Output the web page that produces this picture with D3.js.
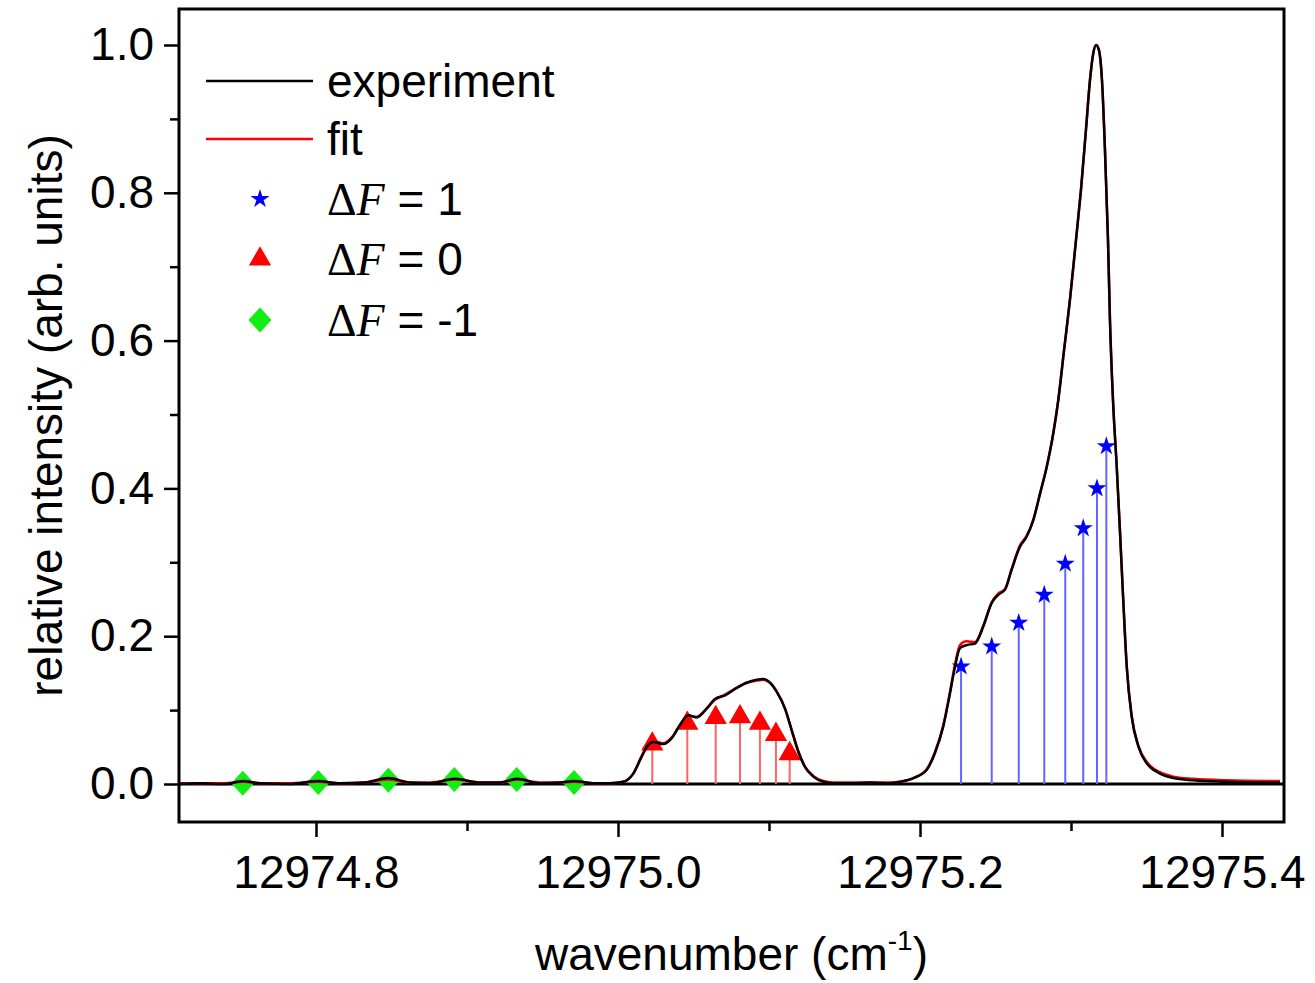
<!DOCTYPE html>
<html>
<head>
<meta charset="utf-8">
<script src="https://cdn.jsdelivr.net/npm/d3@7"></script>
<style>
  body { margin: 0; background: #fff; }
  svg { display: block; font-family: "Liberation Sans", Arial, sans-serif; }
</style>
</head>
<body>
<svg id="chart" width="1315" height="983"></svg>
<script>
// spectrum
const wavenumber = [
  12974.7093, 12974.7232, 12974.7397, 12974.7517, 12974.7629, 12974.7828, 12974.8013, 12974.8159,
  12974.8325, 12974.8477, 12974.8623, 12974.8755, 12974.8921, 12974.9086, 12974.9219, 12974.9331,
  12974.9483, 12974.9616, 12974.9709, 12974.9848, 12974.9947, 12975.0035, 12975.0101, 12975.0157,
  12975.0201, 12975.0234, 12975.0300, 12975.0356, 12975.0411, 12975.0466, 12975.0521, 12975.0587,
  12975.0642, 12975.0709, 12975.0786, 12975.0852, 12975.0919, 12975.0962, 12975.1007, 12975.1051,
  12975.1106, 12975.1150, 12975.1194, 12975.1238, 12975.1293, 12975.1360, 12975.1426, 12975.1536,
  12975.1669, 12975.1801, 12975.1868, 12975.1956, 12975.2044, 12975.2099, 12975.2154, 12975.2199,
  12975.2232, 12975.2265, 12975.2309, 12975.2364, 12975.2419, 12975.2475, 12975.2519, 12975.2563,
  12975.2607, 12975.2662, 12975.2707, 12975.2750, 12975.2795, 12975.2839, 12975.2883, 12975.2916,
  12975.2954, 12975.2993, 12975.3033, 12975.3066, 12975.3099, 12975.3126, 12975.3146, 12975.3166,
  12975.3185, 12975.3205, 12975.3225, 12975.3245, 12975.3258, 12975.3278, 12975.3303, 12975.3325,
  12975.3346, 12975.3369, 12975.3402, 12975.3446, 12975.3501, 12975.3523, 12975.3589, 12975.3677,
  12975.3810, 12975.4031, 12975.4384
];
const experiment = [
  0.000, 0.001, 0.000, 0.004, 0.001, 0.000, 0.004, 0.001,
  0.002, 0.008, 0.002, 0.001, 0.007, 0.002, 0.002, 0.007,
  0.001, 0.002, 0.004, 0.001, 0.001, 0.003, 0.014, 0.037,
  0.053, 0.057, 0.054, 0.062, 0.080, 0.093, 0.090, 0.102,
  0.115, 0.120, 0.130, 0.137, 0.141, 0.142, 0.137, 0.125,
  0.102, 0.073, 0.044, 0.023, 0.010, 0.003, 0.001, 0.001,
  0.002, 0.001, 0.003, 0.008, 0.019, 0.042, 0.078, 0.123,
  0.159, 0.184, 0.188, 0.190, 0.213, 0.245, 0.256, 0.263,
  0.290, 0.321, 0.335, 0.357, 0.393, 0.429, 0.475, 0.520,
  0.587, 0.655, 0.736, 0.804, 0.885, 0.953, 0.987, 1.000,
  0.993, 0.953, 0.858, 0.736, 0.628, 0.520, 0.429, 0.339,
  0.249, 0.159, 0.091, 0.051, 0.028, 0.023, 0.014, 0.008,
  0.005, 0.003, 0.002
];
const fit = [
  0.001, 0.001, 0.001, 0.003, 0.001, 0.001, 0.003, 0.001,
  0.002, 0.006, 0.002, 0.002, 0.006, 0.002, 0.002, 0.006,
  0.002, 0.002, 0.003, 0.001, 0.001, 0.003, 0.014, 0.038,
  0.054, 0.058, 0.055, 0.063, 0.080, 0.092, 0.091, 0.102,
  0.114, 0.121, 0.130, 0.137, 0.140, 0.141, 0.137, 0.125,
  0.102, 0.073, 0.044, 0.024, 0.011, 0.004, 0.002, 0.002,
  0.002, 0.002, 0.003, 0.008, 0.020, 0.043, 0.079, 0.125,
  0.162, 0.188, 0.193, 0.192, 0.214, 0.246, 0.258, 0.264,
  0.291, 0.323, 0.336, 0.357, 0.393, 0.429, 0.475, 0.520,
  0.587, 0.655, 0.736, 0.804, 0.885, 0.953, 0.987, 1.000,
  0.993, 0.953, 0.858, 0.736, 0.628, 0.520, 0.429, 0.339,
  0.249, 0.160, 0.092, 0.052, 0.030, 0.025, 0.016, 0.010,
  0.007, 0.005, 0.004
];

// assigned transitions
const dF1Pos = [12975.2272, 12975.2475, 12975.2654, 12975.2823, 12975.2962, 12975.3081, 12975.3172, 12975.3234];
const dF1Int = [0.159, 0.186, 0.218, 0.256, 0.298, 0.346, 0.400, 0.457];
const dF0Pos = [12975.0227, 12975.0459, 12975.0647, 12975.0808, 12975.0940, 12975.1046, 12975.1137];
const dF0Int = [0.054, 0.082, 0.090, 0.091, 0.082, 0.067, 0.041];
const dFm1Pos = [12974.7515, 12974.8015, 12974.8479, 12974.8916, 12974.9329, 12974.9709];
const dFm1Int = [0.001, 0.002, 0.005, 0.006, 0.006, 0.002];

const xTicks = [12974.8, 12975.0, 12975.2, 12975.4];
const xMinor = [12974.9, 12975.1, 12975.3];
const yTicks = [0.0, 0.2, 0.4, 0.6, 0.8, 1.0];
const yMinor = [0.1, 0.3, 0.5, 0.7, 0.9];

const plotLeft = 179, plotRight = 1284, plotTop = 9, plotBottom = 822;

const svg = d3.select("#chart");

const x = d3.scaleLinear().domain([12974.70927, 12975.44106]).range([plotLeft, plotRight]);
const y = d3.scaleLinear().domain([-0.05142, 1.04871]).range([plotBottom, plotTop]);

svg.append("defs").append("clipPath").attr("id", "plotclip")
  .append("rect").attr("x", plotLeft).attr("y", plotTop)
  .attr("width", plotRight - plotLeft).attr("height", plotBottom - plotTop);

// axes
const fmt = d3.format(".1f");
const xAxis = svg.append("g").attr("transform", `translate(0,${plotBottom})`)
  .call(d3.axisBottom(x).tickValues(xTicks).tickFormat(fmt).tickSize(15).tickPadding(18).tickSizeOuter(0));
const xAxisMinor = svg.append("g").attr("transform", `translate(0,${plotBottom})`)
  .call(d3.axisBottom(x).tickValues(xMinor).tickFormat("").tickSize(9).tickSizeOuter(0));
const yAxis = svg.append("g").attr("transform", `translate(${plotLeft},0)`)
  .call(d3.axisLeft(y).tickValues(yTicks).tickFormat(fmt).tickSize(15).tickPadding(10).tickSizeOuter(0));
const yAxisMinor = svg.append("g").attr("transform", `translate(${plotLeft},0)`)
  .call(d3.axisLeft(y).tickValues(yMinor).tickFormat("").tickSize(9).tickSizeOuter(0));

[xAxis, xAxisMinor, yAxis, yAxisMinor].forEach(g => {
  g.select(".domain").remove();
  g.selectAll(".tick line").attr("stroke", "#000").attr("stroke-width", 2.5);
  g.selectAll(".tick text").attr("fill", "#000")
    .style("font-family", '"Liberation Sans", Arial, sans-serif')
    .style("font-size", "46px");
});

const plot = svg.append("g").attr("clip-path", "url(#plotclip)");

// zero line
plot.append("line")
  .attr("x1", plotLeft).attr("x2", plotRight)
  .attr("y1", y(0)).attr("y2", y(0))
  .attr("stroke", "#000").attr("stroke-width", 3);

// stems
function stems(pos, val, color) {
  plot.append("g").selectAll("line").data(pos).join("line")
    .attr("x1", d => x(d)).attr("x2", d => x(d))
    .attr("y1", y(0)).attr("y2", (d, i) => y(val[i]))
    .attr("stroke", color).attr("stroke-width", 2);
}
stems(dF1Pos, dF1Int, "#6464ff");
stems(dF0Pos, dF0Int, "#ff6464");

// diamond shape a bit wider than d3's own
const diamondSym = {
  draw(ctx, size) {
    const w = 11.5, h = 12.5;
    ctx.moveTo(0, -h); ctx.lineTo(w, 0); ctx.lineTo(0, h); ctx.lineTo(-w, 0); ctx.closePath();
  }
};

const starPath = d3.symbol(d3.symbolStar, 112)();
const triPath = d3.symbol(d3.symbolTriangle, 215)();
const diaPath = d3.symbol(diamondSym, 100)();

function markers(pos, val, path, color) {
  plot.append("g").selectAll("path").data(pos).join("path")
    .attr("d", path)
    .attr("transform", (d, i) => `translate(${x(d)},${y(val[i])})`)
    .attr("fill", color);
}
markers(dFm1Pos, dFm1Int, diaPath, "#11ee11");
markers(dF0Pos, dF0Int, triPath, "#ff0000");
markers(dF1Pos, dF1Int, starPath, "#0000ff");

// curves
const line = d3.line().curve(d3.curveMonotoneX);
plot.append("path")
  .attr("d", line(wavenumber.map((d, i) => [x(d), y(fit[i])])))
  .attr("fill", "none").attr("stroke", "#ff0000").attr("stroke-width", 2.5);
plot.append("path")
  .attr("d", line(wavenumber.map((d, i) => [x(d), y(experiment[i])])))
  .attr("fill", "none").attr("stroke", "#000").attr("stroke-width", 2.5);

// frame
svg.append("rect")
  .attr("x", plotLeft).attr("y", plotTop)
  .attr("width", plotRight - plotLeft).attr("height", plotBottom - plotTop)
  .attr("fill", "none").attr("stroke", "#000").attr("stroke-width", 3);

// axis titles
const xTitle = svg.append("text")
  .attr("x", (plotLeft + plotRight) / 2).attr("y", 970)
  .attr("text-anchor", "middle").style("font-size", "46px");
xTitle.append("tspan").text("wavenumber (cm");
xTitle.append("tspan").attr("dy", -20).style("font-size", "28px").text("-1");
xTitle.append("tspan").attr("dy", 20).text(")");

svg.append("text")
  .attr("transform", `translate(62,${(plotTop + plotBottom) / 2}) rotate(-90)`)
  .attr("text-anchor", "middle").style("font-size", "46px")
  .text("relative intensity (arb. units)");

// legend
const legend = svg.append("g");
const lineItems = [["experiment", "#000", 81], ["fit", "#ff0000", 139]];
lineItems.forEach(([label, color, ly]) => {
  legend.append("line").attr("x1", 206).attr("x2", 313).attr("y1", ly).attr("y2", ly)
    .attr("stroke", color).attr("stroke-width", 2.5);
  legend.append("text").attr("x", 327).attr("y", ly + 16).style("font-size", "46px").text(label);
});

const symItems = [[starPath, "#0000ff", 199, "1"], [triPath, "#ff0000", 259, "0"], [diaPath, "#11ee11", 320, "-1"]];
symItems.forEach(([path, color, ly, val]) => {
  legend.append("path").attr("d", path).attr("transform", `translate(260,${ly})`).attr("fill", color);
  const t = legend.append("text").attr("x", 327).attr("y", ly + 16).style("font-size", "46px");
  t.append("tspan").style("font-family", '"Liberation Serif", "Times New Roman", serif').text("Δ");
  t.append("tspan").style("font-family", '"Liberation Serif", "Times New Roman", serif')
    .style("font-style", "italic").text("F");
  t.append("tspan").text(" = " + val);
});
</script>
</body>
</html>
